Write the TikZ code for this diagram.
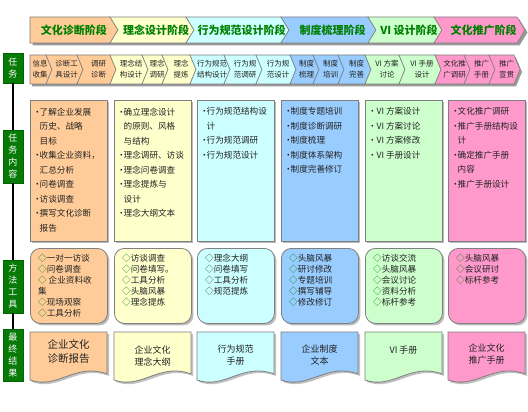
\documentclass[tikz,border=0pt]{standalone}
\usepackage{fontspec}
\setmainfont{Noto Sans CJK SC}
\usetikzlibrary{shadows}
\definecolor{cOr}{HTML}{FFCC99}
\definecolor{cYe}{HTML}{FFFFCC}
\definecolor{cCy}{HTML}{CCFFFF}
\definecolor{cBl}{HTML}{99CCFF}
\definecolor{cGr}{HTML}{CCFFCC}
\definecolor{cPk}{HTML}{FF99CC}
\definecolor{dgreen}{HTML}{008000}
\definecolor{lblgreen}{HTML}{087A08}
\definecolor{txt}{HTML}{222222}
\definecolor{edge}{HTML}{7F7F7F}
\newcommand{\Chev}[7]{%
  \path[#7] ({#1-#6},#3) -- ({#2-#5},#3) -- (#2,{(#3+#4)/2}) -- ({#2-#5},#4)
    -- ({#1-#6},#4) -- (#1,{(#3+#4)/2}) -- cycle;}
\newcommand{\dm}{\textcolor{dgreen}{◇}}
\newcommand{\dk}{\textcolor{black!75}{◇}}
\newcommand{\bl}{\makebox[4.5pt][c]{•}}
\newcommand{\ind}{\hspace*{4.5pt}}
\begin{document}
\begin{tikzpicture}[x=1pt,y=-1pt,
  toptext/.style={font=\fontsize{11}{13}\selectfont\bfseries, text=dgreen, inner sep=0},
  subtext/.style={font=\fontsize{7.5}{11}\selectfont, text=txt, align=center, inner sep=0},
  lbl/.style={draw=black!60!green, fill=lblgreen, text=white, align=center,
    minimum width=20pt, inner sep=0, font=\fontsize{9}{12}\selectfont},
  boxshadow/.style={drop shadow={shadow xshift=2pt, shadow yshift=-2pt, fill=black!45, opacity=0.6}},
  cbox/.style={draw=edge, line width=0.8pt, minimum width=77pt, minimum height=141pt,
    inner sep=0, anchor=north west, boxshadow},
  mbox/.style={draw=edge, line width=0.8pt, minimum width=77pt, minimum height=75pt,
    inner sep=0, anchor=north west, rounded corners=10pt, boxshadow},
  ctext/.style={font=\fontsize{8.6}{14.5}\selectfont, text=txt, align=left, inner sep=0, anchor=north west},
  mtext/.style={font=\fontsize{8.6}{11}\selectfont, text=txt, align=left, inner sep=0, anchor=north west},
  rtext/.style={font=\fontsize{9}{12}\selectfont, text=txt, align=center, inner sep=0},
  vline/.style={line width=1.2pt, black}
]
\useasboundingbox[fill=white] (0,0) rectangle (528,412);

% ---------- top phase row ----------
\foreach \L/\R/\N in {30/118/0,118/194/8,194/289/8,289/376/8,376/442/8,442/525/8}
  {\Chev{\L}{\R}{17}{43}{8}{\N}{fill=black!40, shift={(2.5,2.5)}}}
\foreach \L/\R/\N/\c/\t [count=\i] in {30/118/0/cOr/文化诊断阶段,118/194/8/cYe/理念设计阶段,
    194/289/8/cCy/行为规范设计阶段,289/376/8/cBl/制度梳理阶段,376/442/8/cGr/VI 设计阶段,
    442/525/8/cPk/文化推广阶段}
  {\Chev{\L}{\R}{17}{43}{8}{\N}{fill=\c, draw=edge, line width=0.6pt}
   \node[toptext] (p\i) at ({(\L+\R)/2},30) {\t};}

% ---------- second row (tasks) ----------
\foreach \L/\R/\N in {30/52/0,52/83/6,83/116/6,116/148/6,148/168/6,168/196/6,196/230/6,
    230/262/6,262/296/6,296/319/6,319/344/6,344/371/6,371/405/6,405/441/6,441/470/6,
    470/495/6,495/520/6}
  {\Chev{\L}{\R}{55}{84}{6}{\N}{fill=black!40, shift={(2,2.5)}}}
\foreach \L/\R/\N/\c/\t [count=\i] in {30/52/0/cOr/信息\\收集,52/83/6/cOr/诊断工\\具设计,
    83/116/6/cOr/调研\\诊断,116/148/6/cYe/理念结\\构设计,148/168/6/cYe/理念\\调研,
    168/196/6/cYe/理念\\提炼,196/230/6/cCy/行为规范\\结构设计,230/262/6/cCy/行为规\\范调研,
    262/296/6/cCy/行为规\\范设计,296/319/6/cBl/制度\\梳理,319/344/6/cBl/制度\\培训,
    344/371/6/cBl/制度\\完善,371/405/6/cGr/VI 方案\\讨论,405/441/6/cGr/VI 手册\\设计,
    441/470/6/cPk/文化推\\广调研,470/495/6/cPk/推广\\手册,495/520/6/cPk/推广\\宣贯}
  {\Chev{\L}{\R}{55}{84}{6}{\N}{fill=\c, draw=edge, line width=0.6pt}
   \node[subtext] (s\i) at ({(\L+\R)/2-1},69.5) {\t};}

% ---------- left labels ----------
\node[lbl, minimum height=30pt] (l1) at (13,68) {任\\务};
\node[lbl, minimum height=53pt] (l2) at (13,156.5) {任\\务\\内\\容};
\node[lbl, minimum height=53pt] (l3) at (13,286.5) {方\\法\\工\\具};
\node[lbl, minimum height=52pt] (l4) at (13,355) {最\\终\\结\\果};
\draw[vline] (l1.south) -- (l2.north);
\draw[vline] (l2.south) -- (l3.north);
\draw[vline] (l3.south) -- (l4.north);

% ---------- content boxes ----------
\foreach \x/\c [count=\i] in {30/cOr,114/cYe,197/cCy,281/cBl,365/cGr,448/cPk}
  {\node[cbox, fill=\c] (c\i) at (\x,100) {};}
\node[ctext] (t1) at ([xshift=5pt,yshift=-7.5pt]c1.north west)
  {\bl 了解企业发展\\\ind 历史、战略\\\ind 目标\\\bl 收集企业资料，\\\ind 汇总分析\\\bl 问卷调查\\\bl 访谈调查\\\bl 撰写文化诊断\\\ind 报告};
\node[ctext] (t2) at ([xshift=5pt,yshift=-7.5pt]c2.north west)
  {\bl 确立理念设计\\\ind 的原则、风格\\\ind 与结构\\\bl 理念调研、访谈\\\bl 理念问卷调查\\\bl 理念提炼与\\\ind 设计\\\bl 理念大纲文本};
\node[ctext] (t3) at ([xshift=5pt,yshift=-7.5pt]c3.north west)
  {\bl 行为规范结构设\\\ind 计\\\bl 行为规范调研\\\bl 行为规范设计};
\node[ctext] (t4) at ([xshift=5pt,yshift=-7.5pt]c4.north west)
  {\bl 制度专题培训\\\bl 制度诊断调研\\\bl 制度梳理\\\bl 制度体系架构\\\bl 制度完善修订};
\node[ctext] (t5) at ([xshift=5pt,yshift=-7.5pt]c5.north west)
  {\bl\ VI 方案设计\\\bl\ VI 方案讨论\\\bl\ VI 方案修改\\\bl\ VI 手册设计};
\node[ctext] (t6) at ([xshift=5pt,yshift=-7.5pt]c6.north west)
  {\bl 文化推广调研\\\bl 推广手册结构设\\\ind 计\\\bl 确定推广手册\\\ind 内容\\\bl 推广手册设计};

% ---------- method boxes ----------
\foreach \x/\c [count=\i] in {30/cOr,114/cYe,197/cCy,281/cBl,365/cGr,448/cPk}
  {\node[mbox, fill=\c] (m\i) at (\x,248) {};}
\node[mtext] (u1) at ([xshift=8pt,yshift=-6pt]m1.north west)
  {\dm 一对一访谈\\\dm 问卷调查\\\dm\ 企业资料收\\集\\\dm 现场观察\\\dm 工具分析};
\node[mtext] (u2) at ([xshift=8pt,yshift=-6pt]m2.north west)
  {\dm 访谈调查\\\dm 问卷填写。\\\dm 工具分析\\\dm 头脑风暴\\\dm 理念提炼};
\node[mtext] (u3) at ([xshift=8pt,yshift=-6pt]m3.north west)
  {\dk 理念大纲\\\dk 问卷填写\\\dk 工具分析\\\dk 规范提炼};
\node[mtext] (u4) at ([xshift=8pt,yshift=-6pt]m4.north west)
  {\dm 头脑风暴\\\dm 研讨修改\\\dm 专题培训\\\dm 撰写辅导\\\dm 修改修订};
\node[mtext] (u5) at ([xshift=8pt,yshift=-6pt]m5.north west)
  {\dm 访谈交流\\\dm 头脑风暴\\\dm 会议讨论\\\dm 资料分析\\\dm 标杆参考};
\node[mtext] (u6) at ([xshift=8pt,yshift=-6pt]m6.north west)
  {\dm 头脑风暴\\\dm 会议研讨\\\dm 标杆参考};

% ---------- result (document) shapes ----------
\foreach \x/\c [count=\i] in {30/cOr,114/cYe,197/cCy,281/cBl,365/cGr,448/cPk}
  {\path[fill=black!40, opacity=0.6, shift={(2,2)}] (\x,332) -- ({\x+77},332) -- ({\x+77},374)
     .. controls ({\x+46},362) and ({\x+27},390) .. (\x,380) -- cycle;
   \path[fill=\c, draw=edge, line width=0.8pt] (\x,332) -- ({\x+77},332) -- ({\x+77},374)
     .. controls ({\x+46},362) and ({\x+27},390) .. (\x,380) -- cycle;}
\node[rtext, font=\fontsize{10.5}{13.5}\selectfont] (r1) at (68.5,351.5) {企业文化\\诊断报告};
\node[rtext] (r2) at (152.5,356) {企业文化\\理念大纲};
\node[rtext] (r3) at (235.5,355) {行为规范\\手册};
\node[rtext] (r4) at (319.5,355) {企业制度\\文本};
\node[rtext] (r5) at (403.5,350) {VI 手册};
\node[rtext] (r6) at (486.5,354) {企业文化\\推广手册};
\end{tikzpicture}
\end{document}
